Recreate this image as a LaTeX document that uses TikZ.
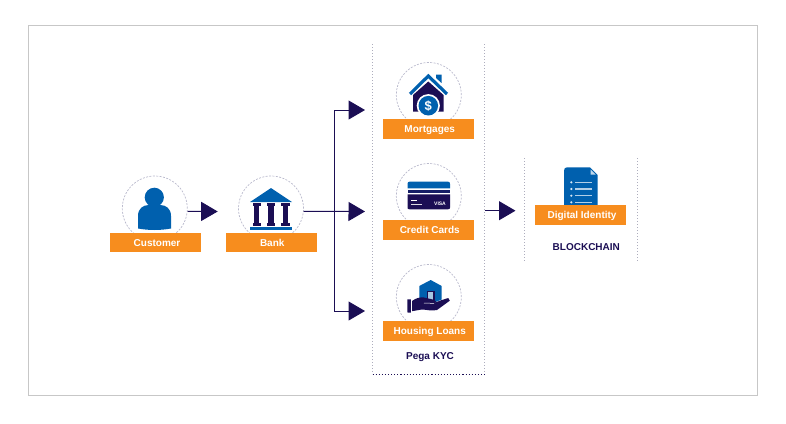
\documentclass[tikz,border=0pt]{standalone}
\usepackage{fontspec}
\setmainfont{Liberation Sans}
\usetikzlibrary{arrows.meta}
\definecolor{navy}{HTML}{1B0E54}
\definecolor{kycblue}{HTML}{0060AE}
\definecolor{kycorange}{HTML}{F78D1E}
\definecolor{ringgray}{HTML}{B9B9CC}
\tikzset{
	ring/.style={circle,draw=ringgray,dash pattern=on 2pt off 1.4pt,line width=0.7pt,minimum size=65pt,inner sep=0pt},
	tag/.style={fill=kycorange,text=white,inner sep=0pt,minimum width=91pt,minimum height=19.5pt,text height=8.6pt,text depth=1.6pt,font=\fontsize{10}{12}\selectfont\bfseries,execute at begin node={\hspace*{2.5pt}}},
	caption/.style={text=navy,inner sep=0pt,font=\fontsize{10}{12}\selectfont\bfseries},
	link/.style={draw=navy,line width=1pt},
	flow/.style={link,-{Triangle[length=16.5pt,width=19pt]}},
	sideline/.style={draw=ringgray!80!gray,dotted,line width=1pt}
}
\begin{document}
\begin{tikzpicture}[x=1pt,y=-1pt]
	\useasboundingbox (0,0) rectangle (786,423);
	\draw[draw=black!22,line width=0.8pt] (28.5,25.5) rectangle (757.5,395.5);
	% dotted boxes
	\draw[sideline] (372.5,44) -- (372.5,374);
	\draw[sideline] (484.5,44) -- (484.5,374);
	\draw[draw=navy,dotted,line width=1.1pt] (372.5,374.5) -- (484.5,374.5);
	\draw[sideline] (524.5,158) -- (524.5,262);
	\draw[sideline] (637.5,158) -- (637.5,262);
	% rings
	\node[ring] (customerring) at (154.8,208.5) {};
	\node[ring] (bankring) at (271,208.5) {};
	\node[ring] (mortgagering) at (428.8,95) {};
	\node[ring] (cardring) at (428.8,196) {};
	\node[ring] (loanring) at (428.8,297) {};
	% connectors
	\coordinate (customertip) at (217.7,211.5);
	\coordinate (branch) at (334,211.5);
	\coordinate (mortgagetip) at (365,110);
	\coordinate (cardtip) at (365,211.5);
	\coordinate (loantip) at (365,311);
	\coordinate (pegaout) at (484.5,210.7);
	\coordinate (identitytip) at (515.5,210.7);
	\draw[flow] (customerring.-5) -- (customertip);
	\draw[flow] (bankring.-5) -- (cardtip);
	\draw[flow] (branch) |- (mortgagetip);
	\draw[flow] (branch) |- (loantip);
	\draw[flow] (pegaout) -- (identitytip);
	% customer
	\fill[kycblue] (154.3,197.3) circle (9.6);
	\fill[kycblue] (138,228.5) -- (138,216) .. controls (138,208.5) and (143,205) .. (149,205) -- (160,205) .. controls (166,205) and (171,208.5) .. (171,216) -- (171,228.5) .. controls (160,230.5) and (149,230.5) .. (138,228.5) -- cycle;
	% bank
	\fill[kycblue] (250,202) -- (271,188) -- (292,202) -- cycle;
	\foreach \colx in {256.7,271,285.3} {
		\fill[navy] (\colx-4.2,203) rectangle (\colx+4.2,205.5);
		\fill[navy] (\colx-2.6,205) rectangle (\colx+2.6,223);
		\fill[navy] (\colx-4.2,222.5) rectangle (\colx+4.2,225.5);
	}
	\fill[kycblue] (250,227) rectangle (292,230);
	% house
	\fill[navy] (428.3,81.5) -- (443.5,95) -- (443.5,111.7) -- (413,111.7) -- (413,95) -- cycle;
	\fill[kycblue] (436,78) -- (436,74.5) -- (441.5,74.5) -- (441.5,83) -- cycle;
	\draw[kycblue,line width=3.2pt] (410,94) -- (428.3,76) -- (447,94);
	\fill[white] (428.3,105.7) circle (11.6);
	\fill[kycblue] (428.3,105.7) circle (9.8);
	\node[text=white,inner sep=0pt,font=\fontsize{13}{13}\selectfont\bfseries] (dollar) at (428.3,105.7) {\$};
	% credit card
	\fill[kycblue] (407.5,184) .. controls (407.5,182.5) and (408,181.7) .. (409.5,181.7) -- (448,181.7) .. controls (449.5,181.7) and (450,182.5) .. (450,184) -- (450,188.3) -- (407.5,188.3) -- cycle;
	\fill[navy!80!kycblue] (407.5,189.7) rectangle (450,193);
	\fill[navy] (407.5,194.3) -- (450,194.3) -- (450,207.5) .. controls (450,208.8) and (449.5,209.3) .. (448,209.3) -- (409.5,209.3) .. controls (408,209.3) and (407.5,208.8) .. (407.5,207.5) -- cycle;
	\draw[white,line width=0.7pt] (411,200) -- (416.7,200);
	\draw[white!85!navy,line width=0.9pt] (411,204) -- (422.3,204);
	\node[text=white,inner sep=0pt,font=\fontsize{5}{5}\selectfont\bfseries] (visa) at (440,203.3) {VISA};
	% housing loan
	\fill[kycblue] (430.7,280) -- (441.7,286) -- (441.7,299.5) -- (430.7,304) -- (419.3,299.5) -- (419.3,286) -- cycle;
	\fill[navy] (427.2,291.2) rectangle (434.5,300);
	\fill[kycblue!35!white] (428.3,292.3) rectangle (433.4,300);
	\fill[navy] (407.3,299.5) -- (410.8,299.3) -- (410.8,312.7) -- (407.5,312.7) -- cycle;
	\fill[navy] (412,301) .. controls (416,298) and (420,297) .. (424,297.5) -- (434,299.8) .. controls (436.5,300.5) and (436.5,302) .. (435,302.6) -- (441,300.3) -- (448.3,298) -- (449.8,300.7) -- (437,310) .. controls (431,311.3) and (426,309.5) .. (421.7,309.5) -- (412,311.2) -- cycle;
	\draw[white,line width=0.5pt] (424,303) -- (434,303.4);
	% document
	\fill[kycblue] (564,171) .. controls (564,168.5) and (565,167.3) .. (567,167.3) -- (590,167.3) -- (597.7,175) -- (597.7,206) -- (564,206) -- cycle;
	\fill[white!75!kycblue] (590.5,169.5) -- (595.5,174.5) -- (590.5,174.5) -- cycle;
	\foreach \rowy in {182.3,189,195.7,202.3} {
		\draw[white!70!kycblue,line width=1.3pt] (575.3,\rowy) -- (592,\rowy);
		\fill[white!85!kycblue] (571.3,\rowy) circle (1.2);
	}
	% tags
	\node[tag] (customer) at (155.8,242.5) {Customer};
	\node[tag] (bank) at (271,242.5) {Bank};
	\node[tag] (mortgages) at (428.5,129) {Mortgages};
	\node[tag] (cards) at (428.5,230) {Credit Cards};
	\node[tag] (loans) at (428.5,331) {Housing Loans};
	\node[tag] (identity) at (580.8,215) {Digital Identity};
	\node[caption] (pega) at (430,357.3) {Pega KYC};
	\node[caption] (blockchain) at (586.3,246.7) {BLOCKCHAIN};
\end{tikzpicture}
\end{document}
